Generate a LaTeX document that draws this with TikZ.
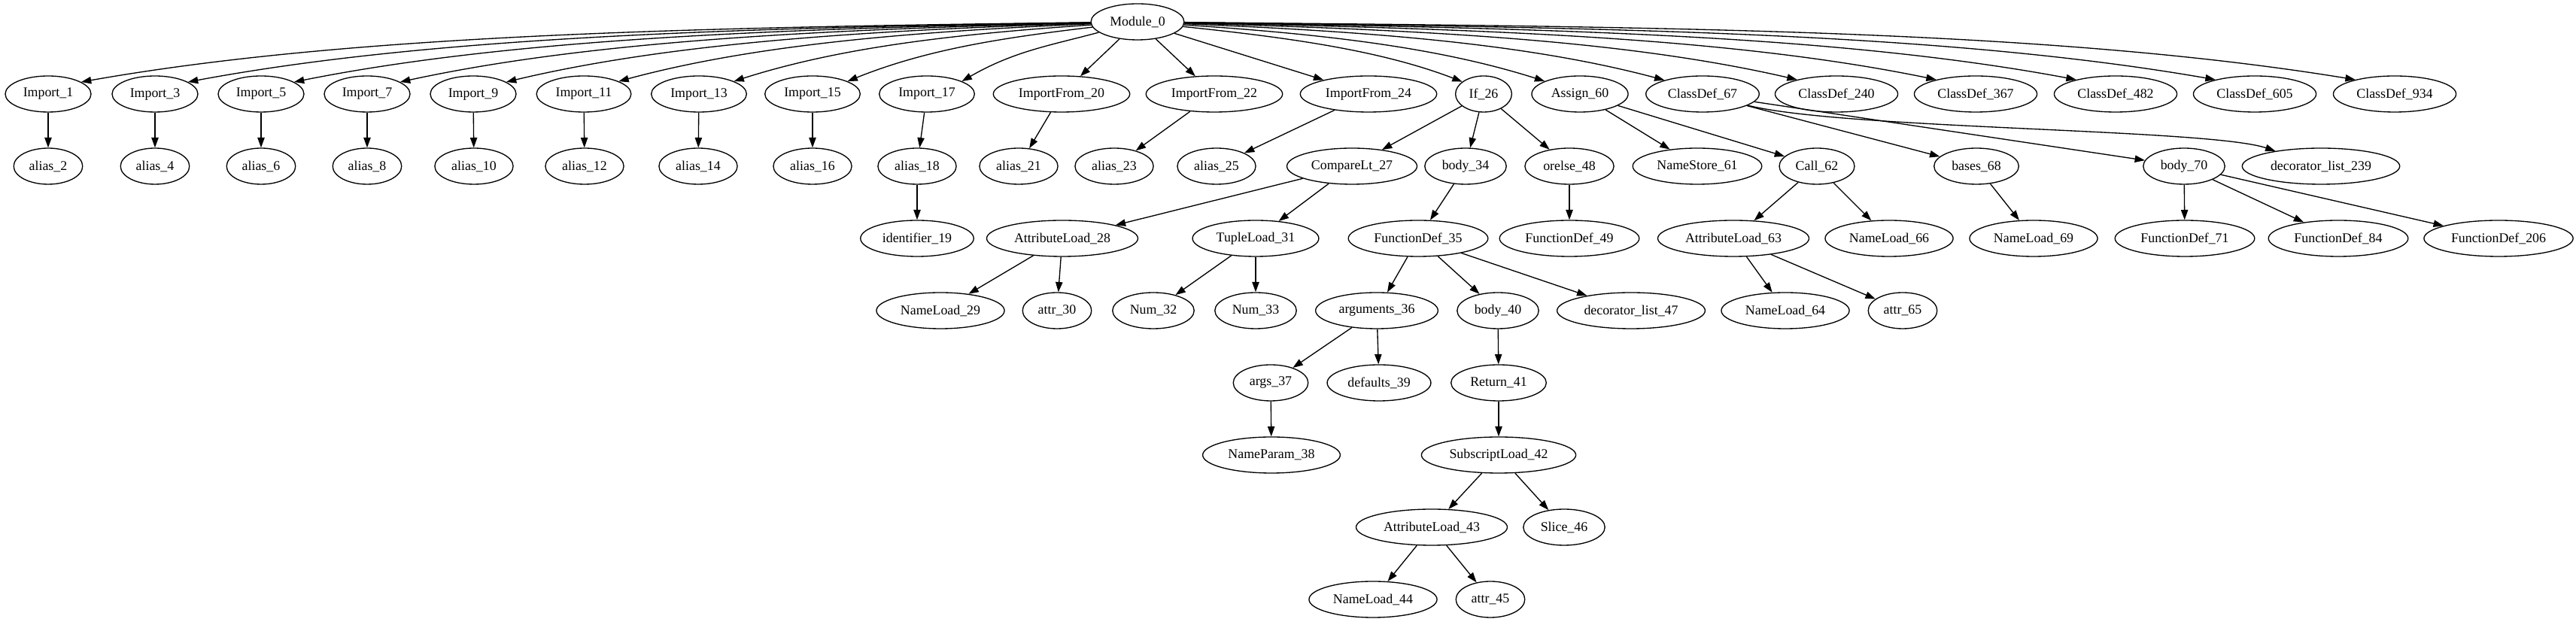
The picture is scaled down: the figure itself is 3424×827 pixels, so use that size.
\documentclass[tikz,border=0pt]{standalone}
\usepackage{fontspec}
\setmainfont{Liberation Serif}
\usetikzlibrary{arrows.meta,shapes.geometric}
\tikzset{
  ast/.style={draw, ellipse, line width=1pt, inner xsep=5.3pt, inner ysep=3pt,
    minimum height=36pt, minimum width=54pt, font=\fontsize{13.4}{16}\selectfont},
  astedge/.style={-{Triangle[length=10pt,width=7pt]}, line width=1pt},
}
\begin{document}
\begin{tikzpicture}[x=0.75pt, y=0.75pt]
  %\draw[help lines] (0,0) grid[step=100] (3424,827);
  \useasboundingbox (0,0) rectangle (3424,827);
  % rank 0
  \node[ast] (m0) at (1512,798) {Module\_0};
  % rank 1
  \node[ast] (imp1) at (64,702) {Import\_1};
  \node[ast] (imp3) at (206,702) {Import\_3};
  \node[ast] (imp5) at (347,702) {Import\_5};
  \node[ast] (imp7) at (488,702) {Import\_7};
  \node[ast] (imp9) at (629,702) {Import\_9};
  \node[ast] (imp11) at (776,702) {Import\_11};
  \node[ast] (imp13) at (929,702) {Import\_13};
  \node[ast] (imp15) at (1080,702) {Import\_15};
  \node[ast] (imp17) at (1232,702) {Import\_17};
  \node[ast] (imf20) at (1411,702) {ImportFrom\_20};
  \node[ast] (imf22) at (1614,702) {ImportFrom\_22};
  \node[ast] (imf24) at (1819,702) {ImportFrom\_24};
  \node[ast] (if26) at (1972,702) {If\_26};
  \node[ast] (as60) at (2100,702) {Assign\_60};
  \node[ast] (cd67) at (2263,702) {ClassDef\_67};
  \node[ast] (cd240) at (2441,702) {ClassDef\_240};
  \node[ast] (cd367) at (2626,702) {ClassDef\_367};
  \node[ast] (cd482) at (2812,702) {ClassDef\_482};
  \node[ast] (cd605) at (2997,702) {ClassDef\_605};
  \node[ast] (cd934) at (3183,702) {ClassDef\_934};
  % rank 2
  \node[ast] (al2) at (64,606) {alias\_2};
  \node[ast] (al4) at (206,606) {alias\_4};
  \node[ast] (al6) at (347,606) {alias\_6};
  \node[ast] (al8) at (488,606) {alias\_8};
  \node[ast] (al10) at (630,606) {alias\_10};
  \node[ast] (al12) at (777,606) {alias\_12};
  \node[ast] (al14) at (928,606) {alias\_14};
  \node[ast] (al16) at (1080,606) {alias\_16};
  \node[ast] (al18) at (1219,606) {alias\_18};
  \node[ast] (al21) at (1354,606) {alias\_21};
  \node[ast] (al23) at (1481,606) {alias\_23};
  \node[ast] (al25) at (1617,606) {alias\_25};
  \node[ast] (cmp27) at (1797,606) {CompareLt\_27};
  \node[ast] (body34) at (1948,606) {body\_34};
  \node[ast] (orelse48) at (2086,606) {orelse\_48};
  \node[ast] (ns61) at (2256,606) {NameStore\_61};
  \node[ast] (call62) at (2415,606) {Call\_62};
  \node[ast] (bases68) at (2627,606) {bases\_68};
  \node[ast] (body70) at (2903,606) {body\_70};
  \node[ast] (dl239) at (3085,606) {decorator\_list\_239};
  % rank 3
  \node[ast] (id19) at (1219,510) {identifier\_19};
  \node[ast] (attl28) at (1412,510) {AttributeLoad\_28};
  \node[ast] (tup31) at (1669,510) {TupleLoad\_31};
  \node[ast] (fd35) at (1885,510) {FunctionDef\_35};
  \node[ast] (fd49) at (2086,510) {FunctionDef\_49};
  \node[ast] (attl63) at (2304,510) {AttributeLoad\_63};
  \node[ast] (nl66) at (2511,510) {NameLoad\_66};
  \node[ast] (nl69) at (2703,510) {NameLoad\_69};
  \node[ast] (fd71) at (2904,510) {FunctionDef\_71};
  \node[ast] (fd84) at (3108,510) {FunctionDef\_84};
  \node[ast] (fd206) at (3321,510) {FunctionDef\_206};
  % rank 4
  \node[ast] (nl29) at (1250,414) {NameLoad\_29};
  \node[ast] (attr30) at (1405,414) {attr\_30};
  \node[ast] (num32) at (1533,414) {Num\_32};
  \node[ast] (num33) at (1669,414) {Num\_33};
  \node[ast] (argm36) at (1830,414) {arguments\_36};
  \node[ast] (body40) at (1991,414) {body\_40};
  \node[ast] (dl47) at (2168,414) {decorator\_list\_47};
  \node[ast] (nl64) at (2373,414) {NameLoad\_64};
  \node[ast] (attr65) at (2529,414) {attr\_65};
  % rank 5
  \node[ast] (args37) at (1689,318) {args\_37};
  \node[ast] (def39) at (1833,318) {defaults\_39};
  \node[ast] (ret41) at (1992,318) {Return\_41};
  % rank 6
  \node[ast] (np38) at (1690,222) {NameParam\_38};
  \node[ast] (sub42) at (1992,222) {SubscriptLoad\_42};
  % rank 7
  \node[ast] (attl43) at (1903,126) {AttributeLoad\_43};
  \node[ast] (slice46) at (2079,126) {Slice\_46};
  % rank 8
  \node[ast] (nl44) at (1825,30) {NameLoad\_44};
  \node[ast] (attr45) at (1981,30) {attr\_45};

  % edges out of Module_0
  \foreach \c/\d in {imp1/1448, imp3/1306, imp5/1165, imp7/1024, imp9/883,
      imp11/736, imp13/583, imp15/432, imp17/280}
    \draw[astedge] (m0) .. controls +(-0.4*\d, -2-8000/\d)
      and +(0.25*\d, 35+0.02*\d) .. (\c.20);
  \foreach \c/\d/\e in {if26/460/150, as60/588/160, cd67/751/160, cd240/929/160,
      cd367/1114/160, cd482/1300/160, cd605/1485/160, cd934/1671/160}
    \draw[astedge] (m0) .. controls +(0.4*\d, -2-8000/\d)
      and +(-0.25*\d, 35+0.02*\d) .. (\c.\e);
  \foreach \c in {imf20, imf22, imf24}
    \draw[astedge] (m0) -- (\c);

  % the rest of the tree
  \foreach \a/\b in {imp1/al2, imp3/al4, imp5/al6, imp7/al8, imp9/al10,
      imp11/al12, imp13/al14, imp15/al16, imp17/al18, imf20/al21, imf22/al23,
      imf24/al25, al18/id19, if26/cmp27, if26/body34, if26/orelse48,
      as60/ns61, as60/call62, cd67/bases68, cd67/body70,
      cmp27/attl28, cmp27/tup31, body34/fd35, orelse48/fd49,
      call62/attl63, call62/nl66, bases68/nl69,
      body70/fd71, body70/fd84, body70/fd206,
      attl28/nl29, attl28/attr30, tup31/num32, tup31/num33,
      fd35/argm36, fd35/body40, fd35/dl47, attl63/nl64, attl63/attr65,
      argm36/args37, argm36/def39, body40/ret41, args37/np38, ret41/sub42,
      sub42/attl43, sub42/slice46, attl43/nl44, attl43/attr45}
    \draw[astedge] (\a) -- (\b);
  \draw[astedge] (cd67) .. controls +(187,-47) and +(-150,50) .. (dl239);
\end{tikzpicture}
\end{document}
